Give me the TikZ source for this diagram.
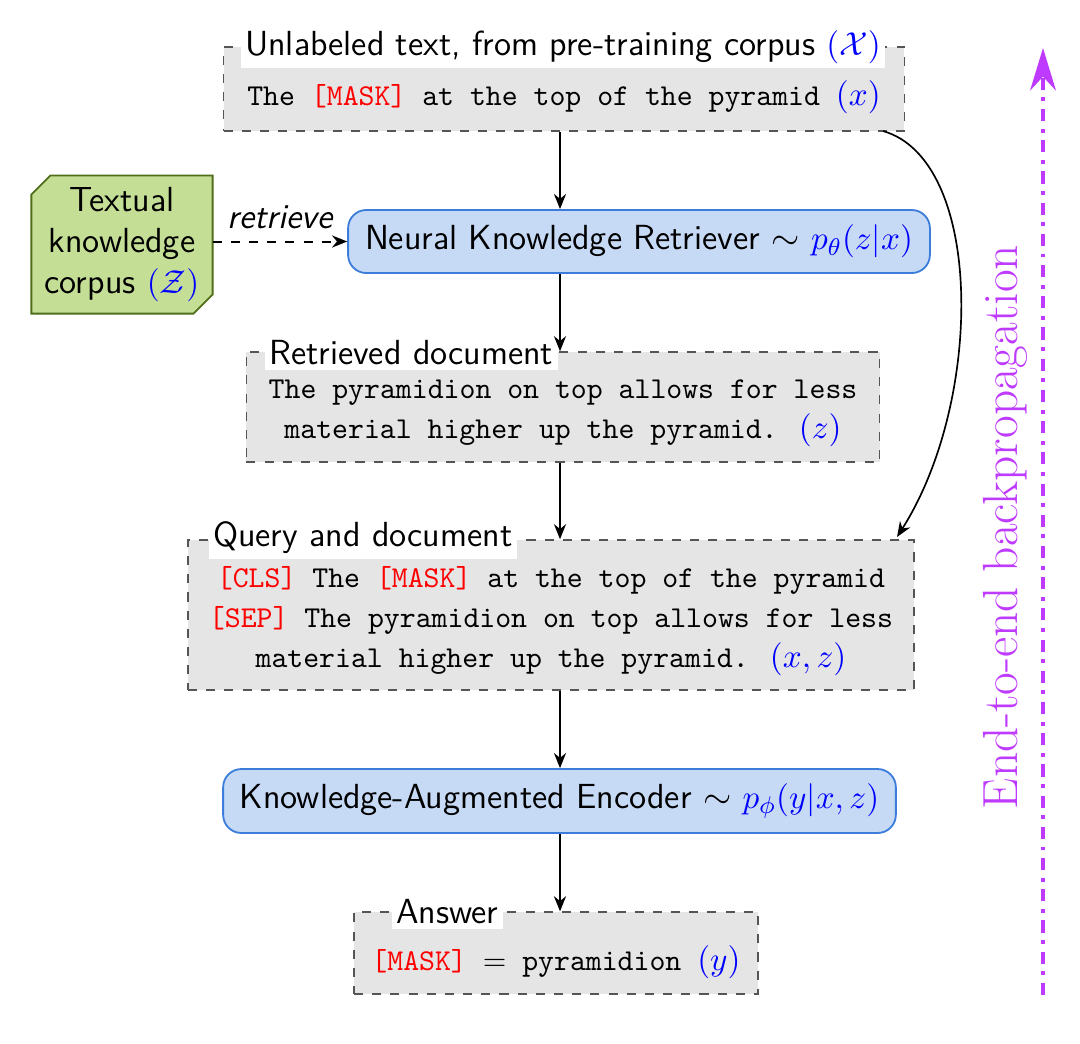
\documentclass[tikz,border=0pt]{standalone}
\usepackage{fontspec}
\usetikzlibrary{arrows.meta}
\definecolor{boxgray}{HTML}{E5E5E5}
\definecolor{boxline}{HTML}{555555}
\definecolor{bluefill}{HTML}{C6DAF6}
\definecolor{blueline}{HTML}{3C7DDB}
\definecolor{greenfill}{HTML}{C5DE96}
\definecolor{greenline}{HTML}{4F6F19}
\definecolor{purp}{HTML}{BF3AFF}
\newcommand{\mk}[1]{\textcolor{red}{#1}}
\newcommand{\bm}[1]{{\fontsize{11.3}{13.5}\selectfont\textcolor{blue}{$#1$}}}
\newcommand{\sfl}{\sffamily\fontsize{11.5}{13.8}\selectfont}
\begin{document}
\begin{tikzpicture}[x=0.33pt,y=-0.33pt,
  docbox/.style={draw=boxline,dashed,fill=boxgray,line width=0.5pt,inner sep=0pt},
  modbox/.style={draw=blueline,fill=bluefill,rounded corners=6pt,line width=0.6pt,inner sep=0pt,font=\sfl},
  lbl/.style={fill=white,inner sep=1.5pt,font=\sfl},
  tt/.style={font={\ttfamily\baselineskip=13.2pt},align=center,inner sep=0pt},
  arr/.style={-{Stealth[length=5pt,width=4pt]},line width=0.55pt}]
\useasboundingbox (0,0) rectangle (1080,1043);
% boxes
\node[docbox,minimum width=224.7pt,minimum height=27.7pt] (top) at (564,89) {};
\node[tt] (toptxt) at (564,97) {The \mk{[MASK]} at the top of the pyramid \bm{(x)}};
\node[lbl,anchor=center] (toplbl) at (563,47) {Unlabeled text, from pre-training corpus \bm{(\mathcal{X})}};

\node[modbox,minimum width=192pt,minimum height=20.8pt] (nkr) at (639,241.5) {Neural Knowledge Retriever $\sim$ \bm{p_\theta(z|x)}};

\node[minimum width=59.4pt,minimum height=45.2pt,inner sep=0pt] (corp) at (122,244.5) {};
\draw[draw=greenline,fill=greenfill,line width=0.6pt]
  ([xshift=6.3pt]corp.north west) -- (corp.north east) -- ([yshift=6.3pt]corp.south east)
  -- ([xshift=-6.3pt]corp.south east) -- (corp.south west) -- ([yshift=-6.3pt]corp.north west) -- cycle;
\node[font={\sfl\baselineskip=13.5pt},align=center,inner sep=0pt] (corptxt) at (122,244.5) {Textual\\knowledge\\corpus \bm{(\mathcal{Z})}};

\node[docbox,minimum width=209pt,minimum height=36.3pt] (ret) at (563,407) {};
\node[tt] (rettxt) at (563,413) {The pyramidion on top allows for less\\material higher up the pyramid. \bm{(z)}};
\node[lbl,anchor=west] (retlbl) at (264,353) {Retrieved document};

\node[docbox,minimum width=239.6pt,minimum height=49.5pt] (qd) at (551,615) {};
\node[tt] (qdtxt) at (551,621) {\mk{[CLS]} The \mk{[MASK]} at the top of the pyramid\\\mk{[SEP]} The pyramidion on top allows for less\\material higher up the pyramid. \bm{(x,z)}};
\node[lbl,anchor=west] (qdlbl) at (208,538) {Query and document};

\node[modbox,minimum width=222pt,minimum height=21.1pt] (kae) at (559.5,801) {Knowledge-Augmented Encoder $\sim$ \bm{p_\phi(y|x,z)}};

\node[docbox,minimum width=133.3pt,minimum height=27pt] (ans) at (556,953) {};
\node[tt] (anstxt) at (556,962) {\mk{[MASK]} $=$ pyramidion \bm{(y)}};
\node[lbl,anchor=west] (anslbl) at (391,912) {Answer};

% connectors
\coordinate (ax) at (560,0);
\draw[arr] (top.south -| ax) -- (nkr.north -| ax);
\draw[arr] (nkr.south -| ax) -- (ret.north -| ax);
\draw[arr] (ret.south -| ax) -- (qd.north -| ax);
\draw[arr] (qd.south -| ax) -- (kae.north -| ax);
\draw[arr] (kae.south -| ax) -- (ans.north -| ax);
\draw[arr,dashed,line width=0.65pt] (corp.east |- nkr.west) -- node[above=0.5pt,font=\sfl\itshape] (retr) {retrieve} (nkr.west);
\coordinate (cs) at (883,131);
\coordinate (ce) at (897,537);
\draw[arr] (cs) .. controls (984,160) and (984,400) .. (ce);
% backprop
\coordinate (bp0) at (1043,995);
\coordinate (bp1) at (1043,48);
\draw[purp,line width=1.3pt,dash pattern=on 4pt off 2.5pt on 1.3pt off 2.5pt,-{Stealth[length=14pt,width=8.5pt]}] (bp0) -- (bp1);
\node[purp,rotate=90,font=\fontsize{16.3}{19}\selectfont,inner sep=0pt] (bptxt) at (1005,527) {End-to-end backpropagation};
\end{tikzpicture}
\end{document}
